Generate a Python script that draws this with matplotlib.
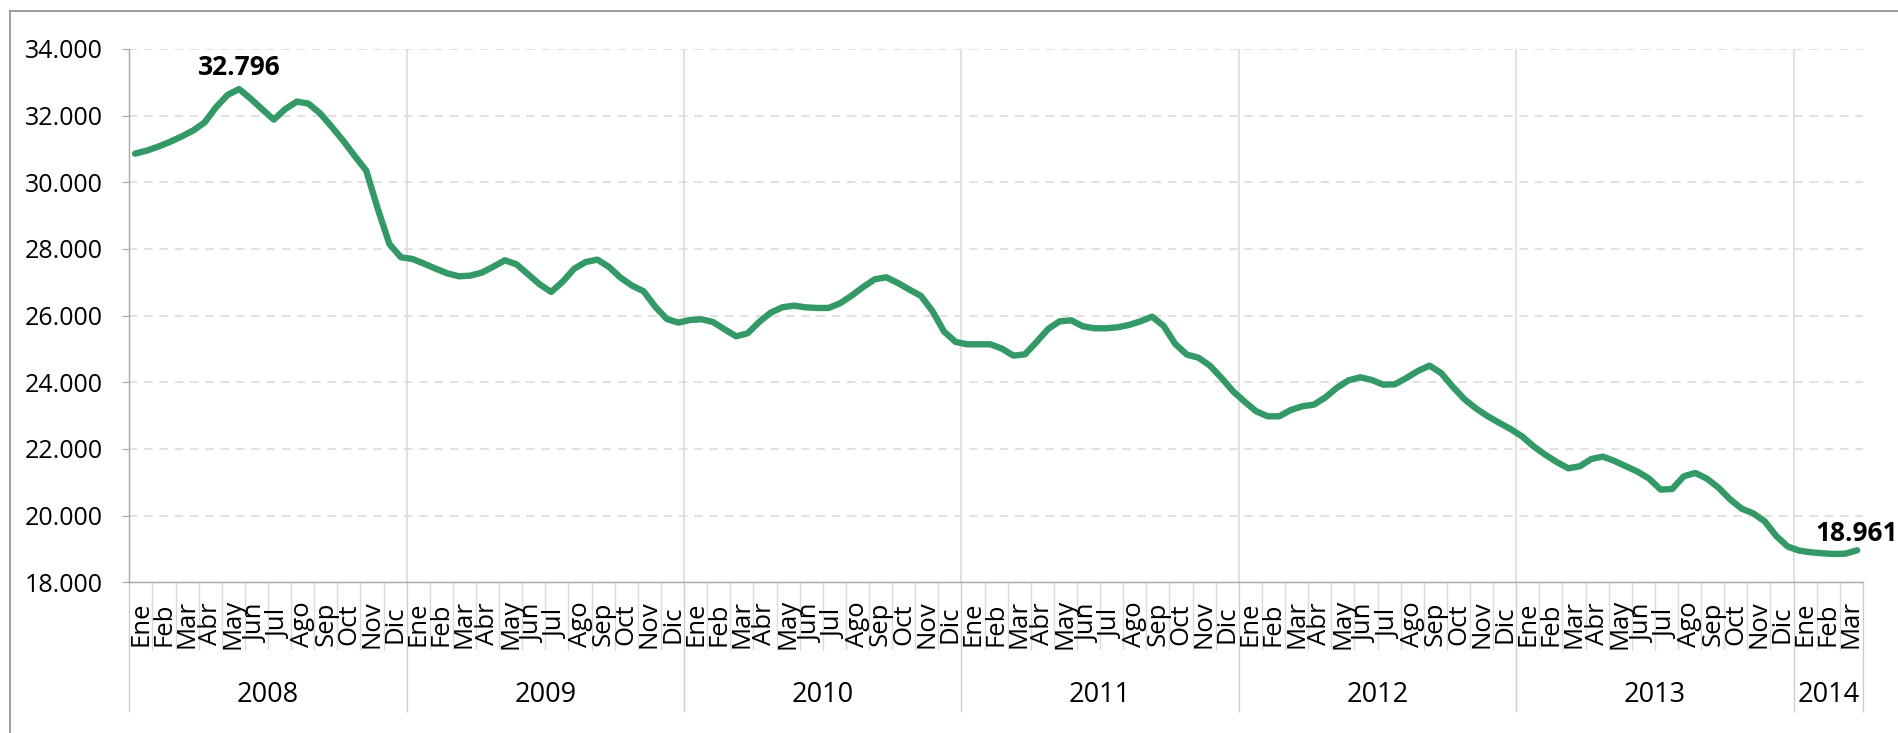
"""Evolución mensual 2008-2014 (línea verde, etiquetas de máximo y último valor)."""
import matplotlib
matplotlib.use("Agg")
import matplotlib.pyplot as plt
from matplotlib.lines import Line2D
from matplotlib.ticker import FuncFormatter, FixedLocator

# two readings per month, Ene 2008 .. Mar 2014 (thousands)
y2008 = [30.86, 30.95, 31.07, 31.21, 31.37, 31.55, 31.79, 32.25, 32.62, 32.796, 32.51, 32.19,
         31.88, 32.20, 32.42, 32.36, 32.07, 31.67, 31.25, 30.79, 30.35, 29.20, 28.15, 27.75]
y2009 = [27.70, 27.56, 27.41, 27.27, 27.18, 27.20, 27.29, 27.47, 27.66, 27.54, 27.24, 26.94,
         26.71, 27.02, 27.41, 27.61, 27.68, 27.46, 27.14, 26.90, 26.73, 26.27, 25.90, 25.79]
y2010 = [25.87, 25.89, 25.81, 25.59, 25.38, 25.47, 25.81, 26.09, 26.25, 26.30, 26.25, 26.23,
         26.23, 26.37, 26.60, 26.86, 27.09, 27.15, 26.98, 26.78, 26.59, 26.13, 25.52, 25.21]
y2011 = [25.14, 25.14, 25.14, 25.01, 24.80, 24.84, 25.21, 25.60, 25.83, 25.86, 25.68, 25.62,
         25.62, 25.65, 25.72, 25.83, 25.97, 25.69, 25.15, 24.83, 24.74, 24.50, 24.13, 23.73]
y2012 = [23.42, 23.13, 22.98, 22.98, 23.17, 23.28, 23.33, 23.55, 23.84, 24.06, 24.15, 24.07,
         23.93, 23.94, 24.13, 24.34, 24.50, 24.28, 23.87, 23.50, 23.22, 22.99, 22.79, 22.60]
y2013 = [22.38, 22.08, 21.83, 21.61, 21.42, 21.48, 21.70, 21.77, 21.64, 21.48, 21.32, 21.11,
         20.78, 20.80, 21.18, 21.28, 21.11, 20.84, 20.49, 20.21, 20.07, 19.83, 19.39, 19.07]
y2014 = [18.95, 18.90, 18.87, 18.85, 18.86, 18.961]

months = ["Ene", "Feb", "Mar", "Abr", "May", "Jun", "Jul", "Ago", "Sep", "Oct", "Nov", "Dic"]
years = ["2008", "2009", "2010", "2011", "2012", "2013", "2014"]
months_per_year = [12, 12, 12, 12, 12, 12, 3]
labelled = ["32.796", "18.961"]

GREEN = "#339966"
GRID = "#d9d9d9"
AXIS = "#a6a6a6"
FONT = ["Open Sans", "DejaVu Sans"]


def main():
    plt.rcParams["font.family"] = FONT
    values = [v * 1000 for v in y2008 + y2009 + y2010 + y2011 + y2012 + y2013 + y2014]
    n_months = sum(months_per_year)
    xs = [(i + 0.5) / 2 for i in range(len(values))]

    fig = plt.figure(figsize=(18.99, 7.33), dpi=100)
    ax = fig.add_axes([0.0681, 0.2056, 0.9129, 0.7276])

    ax.plot(xs, values, color=GREEN, linewidth=4.6, solid_joinstyle="round",
            solid_capstyle="round", zorder=3)

    ax.set_xlim(0, n_months)
    ax.set_ylim(18000, 34000)
    ax.set_yticks(range(18000, 34001, 2000))
    ax.yaxis.set_major_formatter(FuncFormatter(lambda v, p: f"{int(v):,}".replace(",", ".")))
    ax.tick_params(axis="y", labelsize=18, length=5, color=AXIS, pad=14)

    for y in range(20000, 34001, 2000):
        ax.axhline(y, color=GRID, linewidth=1.1, linestyle=(0, (5.5, 4.5)), zorder=1)

    # year / month boundaries
    bounds = [0]
    for m in months_per_year:
        bounds.append(bounds[-1] + m)
    for b in bounds[1:-1]:
        ax.axvline(b, color=GRID, linewidth=1.1, zorder=1)

    ax.xaxis.set_major_locator(FixedLocator(bounds))
    ax.xaxis.set_minor_locator(FixedLocator(range(n_months + 1)))
    ax.tick_params(axis="x", which="major", length=93.5, width=1.0, color="#cccccc",
                   labelbottom=False)
    ax.tick_params(axis="x", which="minor", length=49, width=1.0, color="#d9d9d9")

    for s in ["top", "right"]:
        ax.spines[s].set_visible(False)
    ax.spines["left"].set_color(AXIS)
    ax.spines["bottom"].set_color(AXIS)
    ax.spines["left"].set_linewidth(1.0)
    ax.spines["bottom"].set_linewidth(1.0)

    tr = ax.get_xaxis_transform()
    for k in range(n_months):
        ax.text(k + 0.5, -0.078, months[k % 12], transform=tr, rotation=90,
                ha="center", va="center", fontsize=18.5, color="black")
    for k, yr in enumerate(years):
        ax.text((bounds[k] + bounds[k + 1]) / 2, -0.211, yr, transform=tr,
                ha="center", va="center", fontsize=19.5, color="black")

    # data labels on max and last point
    i_max = values.index(max(values))
    ax.annotate(labelled[0], (xs[i_max], values[i_max]), xytext=(0, 6),
                textcoords="offset points", ha="center", va="bottom",
                fontsize=19, fontweight="bold")
    ax.annotate(labelled[1], (xs[-1], values[-1]), xytext=(0, 2),
                textcoords="offset points", ha="center", va="bottom",
                fontsize=19, fontweight="bold", annotation_clip=False)

    # chart area border (left + top visible in the original crop)
    fig.add_artist(Line2D([0.0053, 0.0053], [0, 0.9854], color="#8c8c8c", linewidth=1.2,
                          transform=fig.transFigure))
    fig.add_artist(Line2D([0.0053, 1], [0.9854, 0.9854], color="#8c8c8c", linewidth=1.2,
                          transform=fig.transFigure))

    fig.savefig("out.png", dpi=100)


if __name__ == "__main__":
    main()
